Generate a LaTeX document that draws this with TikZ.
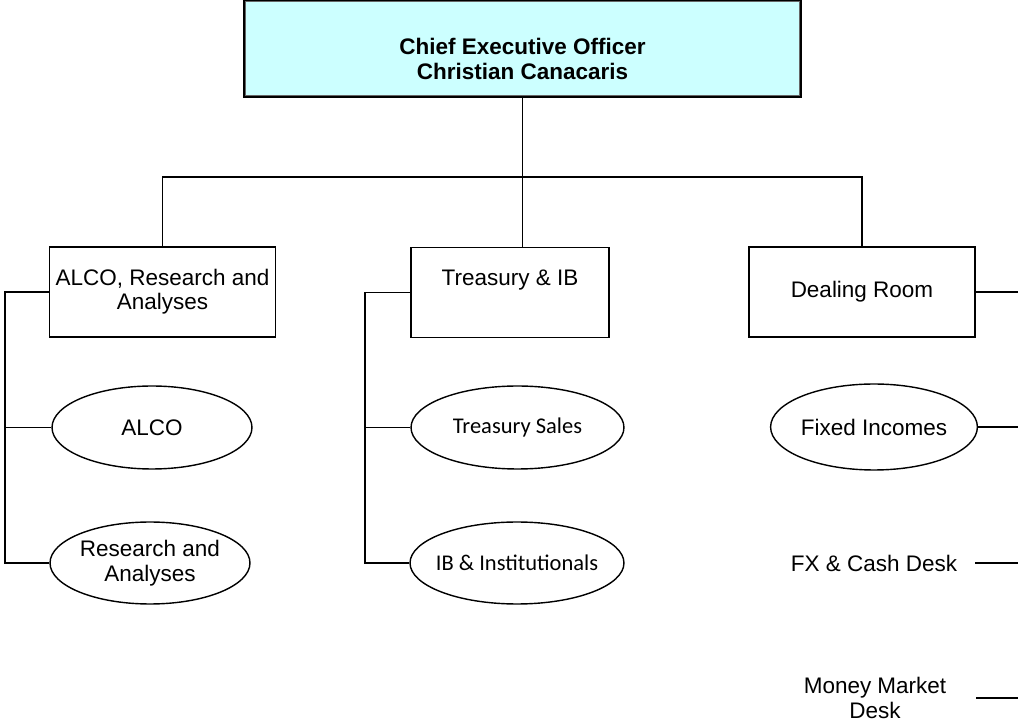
\documentclass[tikz,border=0pt]{standalone}
\usepackage{fontspec}
\setmainfont{Liberation Sans}
\newfontfamily\calibfont{Carlito}
\usepackage{xcolor}
\usetikzlibrary{shapes.geometric,positioning,calc}
\definecolor{ceocyan}{HTML}{CCFFFF}

\begin{document}
\begin{tikzpicture}[
    x=0.02cm, y=-0.02cm,
    every node/.style={font=\fontsize{12.8}{14.5}\selectfont},
    unitbox/.style={rectangle, draw, line width=0.8pt, minimum width=4.52cm, minimum height=1.8cm, align=center, inner sep=0pt},
    deskell/.style={ellipse, draw, line width=0.8pt, minimum width=4cm, minimum height=1.66cm, align=center, inner sep=0pt},
    desktext/.style={align=center, minimum width=4.04cm, inner sep=0pt},
    link/.style={line width=0.8pt}
]
    \useasboundingbox (0,0) rectangle (1018,722);

    % Chief executive
    \node[rectangle, draw, line width=1.4pt, fill=ceocyan, minimum width=11.14cm, minimum height=1.94cm] (ceo) at (522.5,48.5) {};
    \draw[line width=0.6pt, black!60] ([shift={(3,3)}]ceo.north west) rectangle ([shift={(-3,-3)}]ceo.south east);
    \node[align=center, font=\fontsize{12.8}{14.7}\selectfont\bfseries] (ceotext) at (522.5,59) {Chief Executive Officer\\Christian Canacaris};

    % Departments
    \node[unitbox, font=\fontsize{12.8}{13.5}\selectfont] (alcobox) at (162.5,292) {ALCO, Research and\\Analyses};
    \node[unitbox, minimum width=3.96cm] (trbox) at (510,292.5) {Treasury \& IB\\[2pt]~};
    \node[unitbox] (dealbox) at (862,292) {Dealing Room};

    % Desks
    \node[deskell] (alcoell) at (152,427.5) {ALCO};
    \node[deskell, minimum height=1.64cm] (resell) at (150,563) {Research and\\Analyses};
    \node[deskell, minimum width=4.26cm, font=\fontsize{12.8}{14.5}\selectfont\calibfont] (salesell) at (517.5,427.5) {Treasury Sales};
    \node[deskell, minimum width=4.28cm, minimum height=1.64cm, inner xsep=-4pt, font=\fontsize{12.8}{14.5}\selectfont\calibfont] (ibell) at (517,563) {IB \& Institutionals};
    \node[deskell, minimum width=4.04cm, minimum height=1.72cm] (fixedell) at (874,427) {Fixed Incomes};
    \node[desktext] (fxdesk) at (874,563) {FX \& Cash Desk};
    \node[desktext] (mmdesk) at (875,698) {Money Market\\Desk};

    % Bus coordinates
    \coordinate (bar) at (522,177);
    \coordinate (lbus) at (5,0);
    \coordinate (tbus) at (365,0);
    \coordinate (rbus) at (1018,0);

    % Top level connectors
    \draw[link] (ceo.south) -- (ceo.south |- trbox.north);
    \draw[link] (alcobox.north) |- (bar) -| (dealbox.north);

    % Left bus
    \draw[link] (alcobox.west) -| (lbus |- resell.west) -- (resell.west);
    \draw[link] (alcoell.west) -- (alcoell.west -| lbus);

    % Treasury bus
    \draw[link] (trbox.west) -| (tbus |- ibell.west) -- (ibell.west);
    \draw[link] (salesell.west) -- (salesell.west -| tbus);

    % Dealing room bus
    \draw[link] (dealbox.east) -- (dealbox.east -| rbus);
    \draw[link] (fixedell.east) -- (fixedell.east -| rbus);
    \draw[link] (fxdesk.east) -- (fxdesk.east -| rbus);
    \draw[link] (mmdesk.east) -- (mmdesk.east -| rbus);
\end{tikzpicture}
\end{document}
